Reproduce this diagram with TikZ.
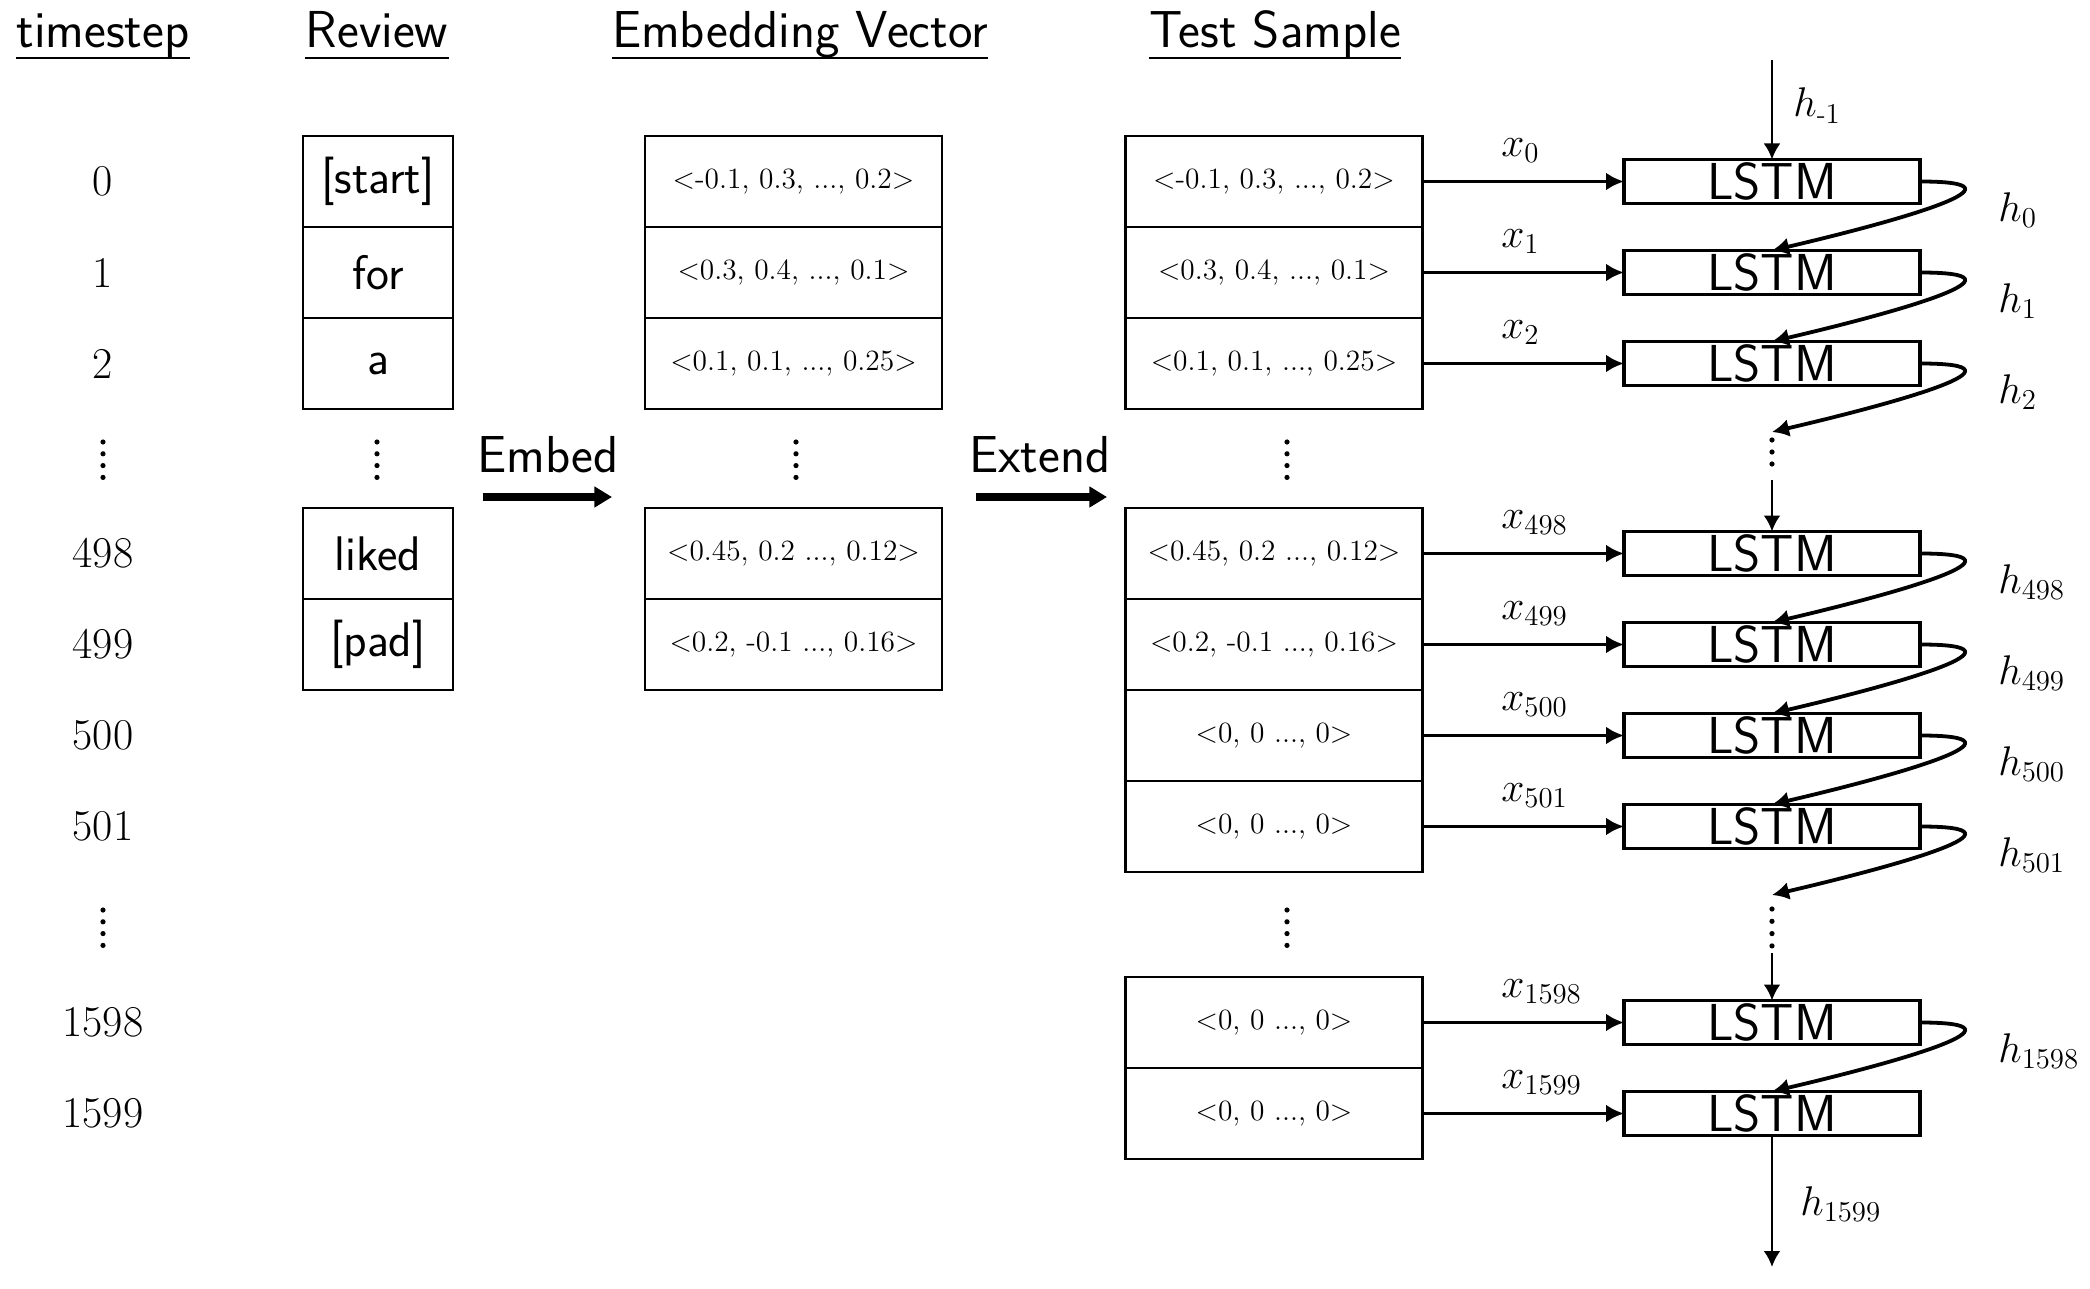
\documentclass[tikz,border=0pt]{standalone}
\usepackage{amsmath}
\usetikzlibrary{arrows.meta}
\begin{document}
\begin{tikzpicture}[x=0.5pt,y=-0.5pt,
  hdr/.style={font=\fontsize{26}{31}\selectfont\sffamily, anchor=base, inner sep=0pt},
  uline/.style={line width=1pt},
  tnum/.style={font=\fontsize{22}{26}\selectfont, inner sep=0pt},
  cell/.style={draw, line width=1.4pt, inner sep=0pt, outer sep=0pt, minimum height=45.5pt},
  rev/.style={cell, minimum width=75pt, font=\fontsize{24.3}{29}\selectfont\sffamily},
  vec/.style={cell, minimum width=148.5pt, font=\fontsize{14.7}{18}\selectfont},
  lstm/.style={draw, line width=1.7pt, inner sep=0pt, outer sep=0pt, minimum width=148pt, minimum height=22pt, font=\fontsize{26}{31}\selectfont\sffamily},
  lbl/.style={font=\fontsize{19.5}{23}\selectfont, inner sep=0pt, anchor=base west},
  xarr/.style={line width=1.9pt, -{Latex[length=9pt,width=9pt]}},
  harr/.style={line width=1.9pt, -{Latex[length=8.5pt,width=9pt]}},
  varr/.style={line width=1.4pt, -{Latex[length=8pt,width=8.5pt]}},
  bigarr/.style={line width=3.8pt, -{Triangle[length=8.8pt,width=10pt]}},
  op/.style={font=\fontsize{26}{31}\selectfont\sffamily, anchor=base, inner sep=0pt},
]
\useasboundingbox (0,0) rectangle (2090,1289);
\newcommand\mydotcol[4]{\foreach \k in {1,...,#4} {\fill ({#1},{#2+(\k-1)*#3}) circle[radius=1.3pt];}}

% headers
\node[hdr] (htime) at (103,48) {timestep};
\node[hdr] (hrev) at (377,48) {Review};
\node[hdr] (hemb) at (800,48) {Embedding Vector};
\node[hdr] (htest) at (1275,48) {Test Sample};
\foreach \h in {htime,hrev,hemb,htest}{
  \draw[uline] ([yshift=-5.2pt]\h.base west) -- ([yshift=-5.2pt]\h.base east);
}

% timesteps
\node[tnum] (t0) at (103,181.5) {0};
\node[tnum] (t1) at (103,272.5) {1};
\node[tnum] (t2) at (103,363.5) {2};
\node[tnum] (t498) at (103,553.5) {498};
\node[tnum] (t499) at (103,644.5) {499};
\node[tnum] (t500) at (103,735.5) {500};
\node[tnum] (t501) at (103,826.5) {501};
\node[tnum] (t1598) at (103,1022.5) {1598};
\node[tnum] (t1599) at (103,1113.5) {1599};
\mydotcol{103}{442}{11.8}{4}
\mydotcol{103}{910}{11.8}{4}

% review
\node[rev] (rv0) at (378,181.5) {[start]};
\node[rev] (rv1) at (378,272.5) {for};
\node[rev] (rv2) at (378,363.5) {a};
\node[rev] (rv498) at (378,553.5) {liked};
\node[rev] (rv499) at (378,644.5) {[pad]};
\mydotcol{377}{442}{11.8}{4}

% embed
\node[op] (embed) at (548,473) {Embed};
\coordinate (ea) at (483,497);
\coordinate (eb) at (612,497);
\draw[bigarr] (ea) -- (eb);

% embedding vectors
\node[vec] (ev0) at (793.5,181.5) {<-0.1, 0.3, ..., 0.2>};
\node[vec] (ev1) at (793.5,272.5) {<0.3, 0.4, ..., 0.1>};
\node[vec] (ev2) at (793.5,363.5) {<0.1, 0.1, ..., 0.25>};
\node[vec] (ev498) at (793.5,553.5) {<0.45, 0.2 ..., 0.12>};
\node[vec] (ev499) at (793.5,644.5) {<0.2, -0.1 ..., 0.16>};
\mydotcol{796}{442}{11.8}{4}

% extend
\node[op] (extend) at (1040,473) {Extend};
\coordinate (xa) at (976,497);
\coordinate (xb) at (1107,497);
\draw[bigarr] (xa) -- (xb);

% test sample
\node[vec] (ts0) at (1274,181.5) {<-0.1, 0.3, ..., 0.2>};
\node[vec] (ts1) at (1274,272.5) {<0.3, 0.4, ..., 0.1>};
\node[vec] (ts2) at (1274,363.5) {<0.1, 0.1, ..., 0.25>};
\node[vec] (ts498) at (1274,553.5) {<0.45, 0.2 ..., 0.12>};
\node[vec] (ts499) at (1274,644.5) {<0.2, -0.1 ..., 0.16>};
\node[vec] (ts500) at (1274,735.5) {<0, 0 ..., 0>};
\node[vec] (ts501) at (1274,826.5) {<0, 0 ..., 0>};
\node[vec] (ts1598) at (1274,1022.5) {<0, 0 ..., 0>};
\node[vec] (ts1599) at (1274,1113.5) {<0, 0 ..., 0>};
\mydotcol{1287}{442}{11.8}{4}
\mydotcol{1287}{910}{11.8}{4}

% LSTMs
\foreach \i/\y in {0/181.5,1/272.5,2/363.5,498/553.5,499/644.5,500/735.5,501/826.5,1598/1022.5,1599/1113.5}{
  \node[lstm] (l\i) at (1772,\y) {LSTM};
  \draw[xarr] (ts\i.east) -- (l\i.west);
  \node[lbl] (xl\i) at (1501,\y-25) {$x_{\i}$};
}

% h_{-1}
\coordinate (hin) at (1772,60);
\draw[varr] (hin) -- (l0.north);
\node[lbl] (hm1) at (1793,117) {$h_{\text{-}1}$};

% recurrent connections
\foreach \a/\b/\y in {0/1/181.5,1/2/272.5,498/499/553.5,499/500/644.5,500/501/735.5,1598/1599/1022.5}{
  \draw[harr] (l\a.east) .. controls +(118,0) and +(128,-30) .. (l\b.north);
  \node[lbl] (hl\a) at (1998,\y+40) {$h_{\a}$};
}
\coordinate (d1a) at (1772,432);
\coordinate (d1b) at (1772,480);
\draw[harr] (l2.east) .. controls +(118,0) and +(128,-30) .. (d1a);
\node[lbl] (hl2) at (1998,403.5) {$h_{2}$};
\mydotcol{1772}{440}{12}{3}
\draw[varr] (d1b) -- (l498.north);

\coordinate (d2a) at (1772,895);
\coordinate (d2b) at (1772,953);
\draw[harr] (l501.east) .. controls +(118,0) and +(128,-30) .. (d2a);
\node[lbl] (hl501) at (1998,866.5) {$h_{501}$};
\mydotcol{1772}{909}{12.3}{4}
\draw[varr] (d2b) -- (l1598.north);

% output
\coordinate (hout) at (1772,1267);
\draw[varr] (l1599.south) -- (hout);
\node[lbl] (hl1599) at (1800,1215) {$h_{1599}$};
\end{tikzpicture}
\end{document}
